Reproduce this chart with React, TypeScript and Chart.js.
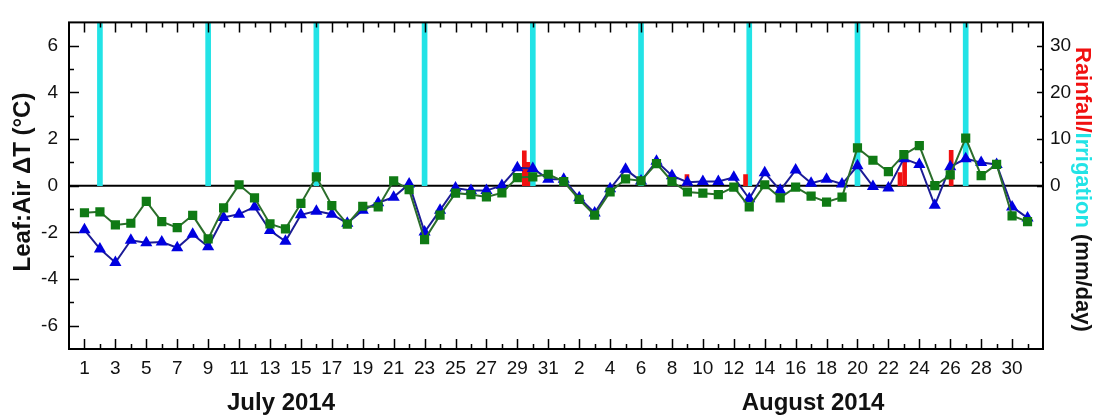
import React, { useEffect, useRef } from 'react';
import { Chart, registerables } from 'chart.js';

Chart.register(...registerables);

// x index 0 = July 1, 2014 ... 61 = August 31, 2014
const xTickLabels = [
  '1', '', '3', '', '5', '', '7', '', '9', '', '11', '', '13', '', '15', '', '17', '', '19', '', '21', '', '23', '', '25', '', '27', '', '29', '', '31',
  '', '2', '', '4', '', '6', '', '8', '', '10', '', '12', '', '14', '', '16', '', '18', '', '20', '', '22', '', '24', '', '26', '', '28', '', '30', '',
];

const greenSquares = [
  -1.16, -1.12, -1.68, -1.61, -0.67, -1.54, -1.8, -1.27, -2.28, -0.95,
  0.04, -0.52, -1.64, -1.85, -0.76, 0.38, -0.85, -1.65, -0.88, -0.91,
  0.21, -0.17, -2.31, -1.26, -0.32, -0.38, -0.48, -0.31, 0.35, 0.38,
  0.49, 0.18, -0.59, -1.26, -0.27, 0.29, 0.21, 0.95, 0.18, -0.27,
  -0.32, -0.38, -0.06, -0.91, 0.04, -0.52, -0.06, -0.45, -0.7, -0.49,
  1.62, 1.09, 0.6, 1.33, 1.72, 0.0, 0.46, 2.04, 0.43, 0.91,
  -1.29, -1.54,
];

const blueTriangles = [
  -1.89, -2.71, -3.29, -2.34, -2.45, -2.41, -2.66, -2.08, -2.62, -1.36,
  -1.22, -0.91, -1.92, -2.38, -1.25, -1.09, -1.22, -1.61, -1.05, -0.73,
  -0.49, 0.07, -1.99, -1.05, -0.1, -0.21, -0.21, 0.01, 0.77, 0.74,
  0.28, 0.28, -0.52, -1.17, -0.13, 0.7, 0.2, 1.05, 0.43, 0.15,
  0.18, 0.18, 0.36, -0.56, 0.56, -0.2, 0.67, 0.11, 0.28, 0.07,
  0.85, -0.03, -0.1, 1.16, 0.91, -0.84, 0.81, 1.16, 0.99, 0.91,
  -0.91, -1.38,
];

// irrigation days (x index) and amounts (mm/day, off the top of the axis)
const irrigationDays = [1, 8, 15, 22, 29, 36, 43, 50, 57];
const irrigationMm = [35, 35, 35, 35, 35, 35, 35, 35, 35];

// rainfall positions (x index) and amounts (mm/day)
const rainDays = [28.45, 28.68, 38.97, 42.76, 52.75, 53.05, 56.06];
const rainMm = [7.5, 5.0, 2.4, 2.4, 2.8, 5.3, 7.6];

const leftTicks = [-6, -5, -4, -3, -2, -1, 0, 1, 2, 3, 4, 5, 6];
const rightTicks = [0, 5, 10, 15, 20, 25, 30];
const rightLabels = [0, 10, 20, 30];

const FONT = '"Liberation Sans", Arial, Helvetica, sans-serif';

const framePlugin = {
  id: 'framePlugin',
  beforeDatasetsDraw(chart: any) {
    const { ctx, chartArea: a, scales } = chart;
    const y0 = scales.y.getPixelForValue(0);
    ctx.save();
    ctx.strokeStyle = '#000';
    ctx.lineWidth = 2;
    ctx.beginPath();
    ctx.moveTo(a.left, y0);
    ctx.lineTo(a.right, y0);
    ctx.stroke();
    ctx.restore();
  },
  afterDatasetsDraw(chart: any) {
    const { ctx, chartArea: a, scales } = chart;
    ctx.save();
    ctx.strokeStyle = '#000';
    ctx.lineWidth = 1.5;
    ctx.beginPath();
    for (let i = 0; i < xTickLabels.length; i++) {
      const px = Math.round(scales.x.getPixelForValue(i)) + 0.5;
      const len = xTickLabels[i] !== '' ? 10 : 5;
      ctx.moveTo(px, a.bottom);
      ctx.lineTo(px, a.bottom - len);
      ctx.moveTo(px, a.top);
      ctx.lineTo(px, a.top + len);
    }
    leftTicks.forEach((v) => {
      const py = Math.round(scales.y.getPixelForValue(v)) + 0.5;
      const len = v % 2 === 0 ? 10 : 5;
      ctx.moveTo(a.left, py);
      ctx.lineTo(a.left + len, py);
    });
    rightTicks.forEach((v) => {
      const py = Math.round(scales.y1.getPixelForValue(v)) + 0.5;
      const len = v % 10 === 0 ? 6 : 3;
      ctx.moveTo(a.right, py);
      ctx.lineTo(a.right - len, py);
    });
    ctx.stroke();
    ctx.lineWidth = 2;
    ctx.strokeRect(a.left, a.top, a.right - a.left, a.bottom - a.top);
    ctx.restore();
  },
  afterDraw(chart: any) {
    const { ctx } = chart;
    ctx.save();
    ctx.fillStyle = '#111';
    // left title
    ctx.font = `bold 24px ${FONT}`;
    ctx.save();
    ctx.translate(23, 182);
    ctx.rotate(-Math.PI / 2);
    ctx.textAlign = 'center';
    ctx.textBaseline = 'middle';
    ctx.fillText('Leaf:Air ΔT (°C)', 0, 0);
    ctx.restore();
    // right title, multi-coloured
    ctx.font = `bold 22px ${FONT}`;
    ctx.save();
    ctx.translate(1082, 47);
    ctx.rotate(Math.PI / 2);
    ctx.textAlign = 'left';
    ctx.textBaseline = 'middle';
    const parts: [string, string][] = [
      ['Rainfall/', '#f01010'],
      ['Irrigation', '#22e3e6'],
      [' (mm/day)', '#111'],
    ];
    let off = 0;
    parts.forEach(([t, c]) => {
      ctx.fillStyle = c;
      ctx.fillText(t, off, 0);
      off += ctx.measureText(t).width;
    });
    ctx.restore();
    // month labels
    ctx.font = `bold 24px ${FONT}`;
    ctx.textAlign = 'center';
    ctx.textBaseline = 'middle';
    ctx.fillStyle = '#111';
    ctx.fillText('July 2014', 281, 403);
    ctx.fillText('August 2014', 813, 403);
    ctx.restore();
  },
};

export default function App() {
  const ref = useRef<HTMLCanvasElement | null>(null);

  useEffect(() => {
    document.body.style.margin = '0';
    const canvas = ref.current;
    if (!canvas) return;
    const chart = new Chart(canvas, {
      type: 'line',
      data: {
        datasets: [
          {
            type: 'bar',
            label: 'Irrigation',
            data: irrigationDays.map((d, i) => ({ x: d, y: irrigationMm[i] })),
            yAxisID: 'y1',
            backgroundColor: '#22e3e6',
            barThickness: 5,
            grouped: false,
            order: 10,
          } as any,
          {
            type: 'bar',
            label: 'Rainfall',
            data: rainDays.map((d, i) => ({ x: d, y: rainMm[i] })),
            yAxisID: 'y1',
            backgroundColor: '#f01010',
            barThickness: 4,
            grouped: false,
            order: 9,
          } as any,
          {
            type: 'line',
            label: 'Blue',
            data: blueTriangles.map((v, i) => ({ x: i, y: v })),
            yAxisID: 'y',
            borderColor: '#1c1c96',
            borderWidth: 2,
            backgroundColor: '#0000e0',
            pointStyle: 'triangle',
            pointRadius: 7,
            pointBorderWidth: 0,
            pointBackgroundColor: '#0000e0',
            tension: 0,
            order: 2,
          },
          {
            type: 'line',
            label: 'Green',
            data: greenSquares.map((v, i) => ({ x: i, y: v })),
            yAxisID: 'y',
            borderColor: '#2b6e2b',
            borderWidth: 2,
            backgroundColor: '#0f7a14',
            pointStyle: 'rect',
            pointRadius: 6.5,
            pointBorderWidth: 0,
            pointBackgroundColor: '#0f7a14',
            tension: 0,
            order: 1,
          },
        ],
      },
      options: {
        responsive: false,
        animation: false,
        events: [],
        layout: { padding: { top: 14, left: 0, right: 0, bottom: 0 } },
        plugins: {
          legend: { display: false },
          tooltip: { enabled: false },
          title: { display: false },
        },
        scales: {
          x: {
            type: 'linear',
            min: -1,
            max: 62,
            offset: false,
            grid: { display: false, drawTicks: false, offset: false },
            border: { display: false },
            afterFit: (s: any) => {
              s.height = 68;
            },
            ticks: {
              stepSize: 1,
              autoSkip: false,
              maxRotation: 0,
              minRotation: 0,
              padding: 8,
              color: '#111',
              font: { family: FONT, size: 19 },
              callback: (v: any) => {
                const i = Number(v);
                return Number.isInteger(i) && i >= 0 && i < xTickLabels.length ? xTickLabels[i] : '';
              },
            },
          },
          y: {
            type: 'linear',
            position: 'left',
            min: -7,
            max: 7,
            grid: { display: false, drawTicks: false },
            border: { display: false },
            afterFit: (s: any) => {
              s.width = 69;
            },
            ticks: {
              stepSize: 1,
              autoSkip: false,
              padding: 11,
              color: '#111',
              font: { family: FONT, size: 19 },
              callback: (v: any) => (v % 2 === 0 && Math.abs(v) <= 6 ? String(v) : ''),
            },
          },
          y1: {
            type: 'linear',
            position: 'right',
            min: -35,
            max: 35,
            grid: { display: false, drawTicks: false },
            border: { display: false },
            afterFit: (s: any) => {
              s.width = 51;
            },
            ticks: {
              stepSize: 5,
              autoSkip: false,
              padding: 7,
              color: '#111',
              font: { family: FONT, size: 19 },
              callback: (v: any) => (rightLabels.includes(v) ? String(v) : ''),
            },
          },
        },
      },
      plugins: [framePlugin],
    });
    return () => chart.destroy();
  }, []);

  return (
    <div style={{ position: 'absolute', left: 0, top: 0, width: 1094, height: 417, background: '#fff' }}>
      <canvas ref={ref} width={1094} height={417} style={{ display: 'block', width: 1094, height: 417 }} />
    </div>
  );
}
